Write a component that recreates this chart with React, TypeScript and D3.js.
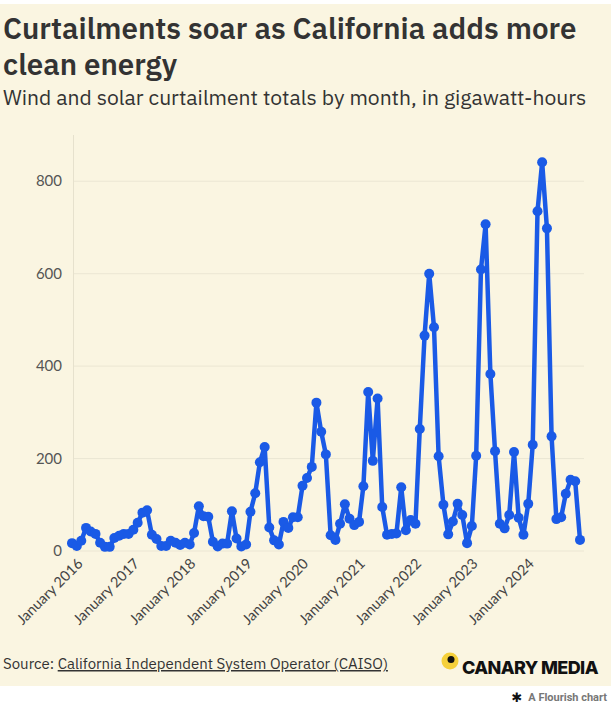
import React from "react";
import * as d3 from "d3";

// monthly wind + solar curtailment, GWh
const years = [2016, 2017, 2018, 2019, 2020, 2021, 2022, 2023, 2024, 2025];
const values2016 = [17, 11, 22, 50, 42, 37, 18, 9, 9, 28, 33, 37];
const values2017 = [37, 46, 61, 83, 88, 35, 26, 11, 11, 22, 18, 13];
const values2018 = [18, 14, 39, 97, 75, 74, 20, 10, 16, 16, 86, 27];
const values2019 = [10, 14, 85, 125, 192, 225, 51, 23, 14, 63, 50, 73];
const values2020 = [73, 141, 158, 182, 321, 258, 209, 34, 24, 59, 101, 70];
const values2021 = [56, 63, 140, 344, 195, 330, 95, 35, 37, 38, 138, 45];
const values2022 = [67, 59, 264, 466, 600, 484, 205, 100, 36, 64, 102, 78];
const values2023 = [17, 54, 206, 609, 707, 383, 216, 59, 49, 78, 214, 72];
const values2024 = [35, 102, 230, 735, 841, 698, 248, 69, 73, 124, 154, 151];
const values2025 = [24];

const yTicks = [0, 200, 400, 600, 800];
const xTickYears = [2016, 2017, 2018, 2019, 2020, 2021, 2022, 2023, 2024];

const title1 = "Curtailments soar as California adds more";
const title2 = "clean energy";
const subtitle = "Wind and solar curtailment totals by month, in gigawatt-hours";

interface Point {
  date: Date;
  value: number;
}

const W = 611;
const H = 709;
const BLUE = "#1a5ae6";
const CREAM = "#faf5e1";

const Chart: React.FC = () => {
  const series = [values2016, values2017, values2018, values2019, values2020, values2021, values2022, values2023, values2024, values2025];
  const data: Point[] = years.flatMap((yr, i) => series[i].map((v, m) => ({ date: new Date(yr, m, 1), value: v })));

  const x = d3.scaleTime()
    .domain(d3.extent(data, d => d.date) as [Date, Date])
    .range([72, 580]);

  const y = d3.scaleLinear()
    .domain([0, 900])
    .range([551, 135]);

  const line = d3.line<Point>()
    .x(d => x(d.date))
    .y(d => y(d.value));

  const font = "'IBM Plex Sans', Roboto, 'Noto Sans', sans-serif";

  return (
    <svg width={W} height={H} style={{ display: "block" }}>
      <rect x={0} y={0} width={W} height={H} fill="#ffffff" />
      <rect x={0} y={4} width={W} height={682} fill={CREAM} />

      {/* header */}
      <g fontFamily={font} fill="#333333">
        <text x={3} y={39} fontSize={29.5} fontWeight={600}>{title1}</text>
        <text x={3} y={74.5} fontSize={29.5} fontWeight={600}>{title2}</text>
        <text x={3} y={105} fontSize={21.1} fontWeight={400}>{subtitle}</text>
      </g>

      {/* y gridlines + labels */}
      <g fontFamily="Lato, sans-serif" fontSize={15} fill="#555555">
        {yTicks.map(t => (
          <g key={t}>
            <line x1={73} x2={584} y1={y(t)} y2={y(t)} stroke="#ebe6d3" strokeWidth={1} />
            <text x={62} y={y(t)} dy="0.35em" textAnchor="end">{t}</text>
          </g>
        ))}
      </g>
      <line x1={73.5} x2={73.5} y1={y(900)} y2={y(0)} stroke="#e6e1cd" strokeWidth={1} />

      {/* x labels */}
      <g fontFamily="Lato, sans-serif" fontSize={14.5} fill="#444444">
        {xTickYears.map(yr => {
          const tx = x(new Date(yr, 0, 1));
          return (
            <text key={yr} transform={`translate(${tx + 8},${561}) rotate(-45)`} textAnchor="end" dy="0.35em">
              {`January ${yr}`}
            </text>
          );
        })}
      </g>

      {/* line + dots */}
      <path d={line(data) ?? ""} fill="none" stroke={BLUE} strokeWidth={4.5} strokeLinejoin="round" />
      {data.map((d, i) => (
        <circle key={i} cx={x(d.date)} cy={y(d.value)} r={5} fill={BLUE} />
      ))}

      {/* footer */}
      <g fontFamily={font} fontSize={15} fill="#333333">
        <text x={3} y={669}>
          <tspan>Source: </tspan>
          <tspan textDecoration="underline">California Independent System Operator (CAISO)</tspan>
        </text>
      </g>
      <circle cx={450} cy={661} r={8.5} fill="#f5d03b" />
      <circle cx={451} cy={659.5} r={3.5} fill="#111111" />
      <text x={462} y={674} fontFamily="Inter, Roboto, sans-serif" fontSize={18} fontWeight={800} letterSpacing={-0.6} fill="#111111">CANARY MEDIA</text>

      <text x={607} y={701} textAnchor="end" fontFamily="Roboto, sans-serif" fontSize={11} fontWeight={700} fill="#777777">A Flourish chart</text>
      <text x={517} y={702} textAnchor="middle" fontFamily="'DejaVu Sans', sans-serif" fontSize={13} fill="#111111">✱</text>
    </svg>
  );
};

export default function App() {
  return (
    <div style={{ position: "absolute", left: 0, top: 0 }}>
      <Chart />
    </div>
  );
}
